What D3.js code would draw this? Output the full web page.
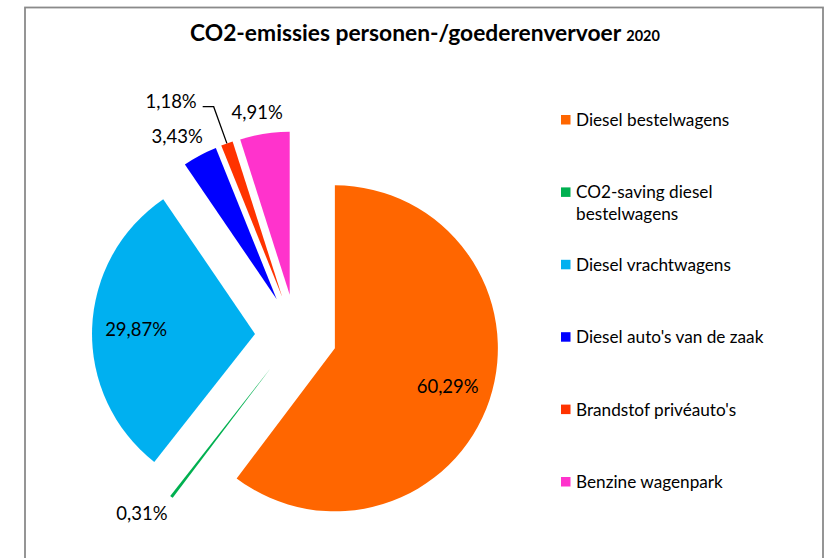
<!DOCTYPE html>
<html><head><meta charset="utf-8">
<script src="https://cdn.jsdelivr.net/npm/d3@7"></script>
<style>html,body{margin:0;padding:0;background:#fff;}svg{display:block;}</style>
</head><body>
<svg id="chart" width="825" height="558"></svg>
<script>
const categories = ["Diesel bestelwagens", "CO2-saving diesel bestelwagens", "Diesel vrachtwagens", "Diesel auto's van de zaak", "Brandstof privéauto's", "Benzine wagenpark"];
const values = [60.29, 0.31, 29.87, 3.43, 1.18, 4.91];
const colors = ["#FF6600", "#00B050", "#00B0F0", "#0000FF", "#FF3300", "#FF33CC"];
const legendLines = [["Diesel bestelwagens"], ["CO2-saving diesel", "bestelwagens"], ["Diesel vrachtwagens"], ["Diesel auto's van de zaak"], ["Brandstof privéauto's"], ["Benzine wagenpark"]];
const labelModes = ["inside", "outside", "inside", "outside", "leader", "outside"];
const titleMain = "CO2-emissies personen-/goederenvervoer";
const titleYear = "2020";

const svg = d3.select("#chart");
const font = "Lato, 'Open Sans', sans-serif";

// border
svg.append("rect").attr("x", 25).attr("y", 7.5).attr("width", 798).attr("height", 560)
  .attr("fill", "#fff").attr("stroke", "#8a8a8a").attr("stroke-width", 1.8);

// title
const title = svg.append("text").attr("x", 190).attr("y", 41)
  .attr("font-family", font).attr("font-weight", "bold").attr("fill", "#000");
title.append("tspan").attr("font-size", 22.8).text(titleMain + " ");
title.append("tspan").attr("font-size", 14.5).text(titleYear);

const cx = 296, cy = 335.3, r = 163, explode = 41;
const pie = d3.pie().sort(null).value(d => d).startAngle(0).endAngle(2 * Math.PI);
const arcs = pie(values);
const arc = d3.arc().innerRadius(0).outerRadius(r);
const fmt = v => d3.format(".2f")(v).replace(".", ",") + "%";

const g = svg.append("g").attr("transform", `translate(${cx},${cy})`);
arcs.forEach((a, i) => {
  const mid = (a.startAngle + a.endAngle) / 2;
  const ux = Math.sin(mid), uy = -Math.cos(mid);
  const ox = ux * explode, oy = uy * explode;
  const sg = g.append("g").attr("transform", `translate(${ox},${oy})`);
  sg.append("path").attr("d", arc(a)).attr("fill", colors[i]);
  const txt = sg.append("text").attr("font-family", font).attr("font-size", 18.5)
    .attr("fill", "#000").text(fmt(values[i]));
  const w = txt.node().getComputedTextLength();
  if (labelModes[i] === "inside") {
    const lr = 0.73 * r;
    txt.attr("x", ux * lr).attr("y", uy * lr).attr("text-anchor", "middle").attr("dy", "0.35em");
  } else if (labelModes[i] === "outside") {
    const lr = r + 10;
    txt.attr("x", ux * lr + ux * w * 0.75).attr("y", uy * lr + uy * 11)
      .attr("text-anchor", "middle").attr("dy", "0.35em");
  } else {
    const p0 = [ux * r, uy * r];
    const p1 = [ux * (r + 39), uy * (r + 39)];
    const p2 = [p1[0] - 11, p1[1]];
    sg.append("polyline").attr("points", [p0, p1, p2].map(p => p.join(",")).join(" "))
      .attr("fill", "none").attr("stroke", "#000").attr("stroke-width", 1.3);
    txt.attr("x", p2[0] - 6).attr("y", p2[1]).attr("text-anchor", "end").attr("dy", "0.05em");
  }
});

// legend
const lx = 561, ly0 = 120, lstep = 72.4;
categories.forEach((c, i) => {
  const y = ly0 + i * lstep;
  svg.append("rect").attr("x", lx).attr("y", y - 5).attr("width", 9.5).attr("height", 9.5).attr("fill", colors[i]);
  const t = svg.append("text").attr("font-family", font).attr("font-size", 17.2).attr("fill", "#000");
  legendLines[i].forEach((line, k) => {
    t.append("tspan").attr("x", lx + 15).attr("y", y + k * 22).attr("dy", "0.35em").text(line);
  });
});
</script>
</body></html>
